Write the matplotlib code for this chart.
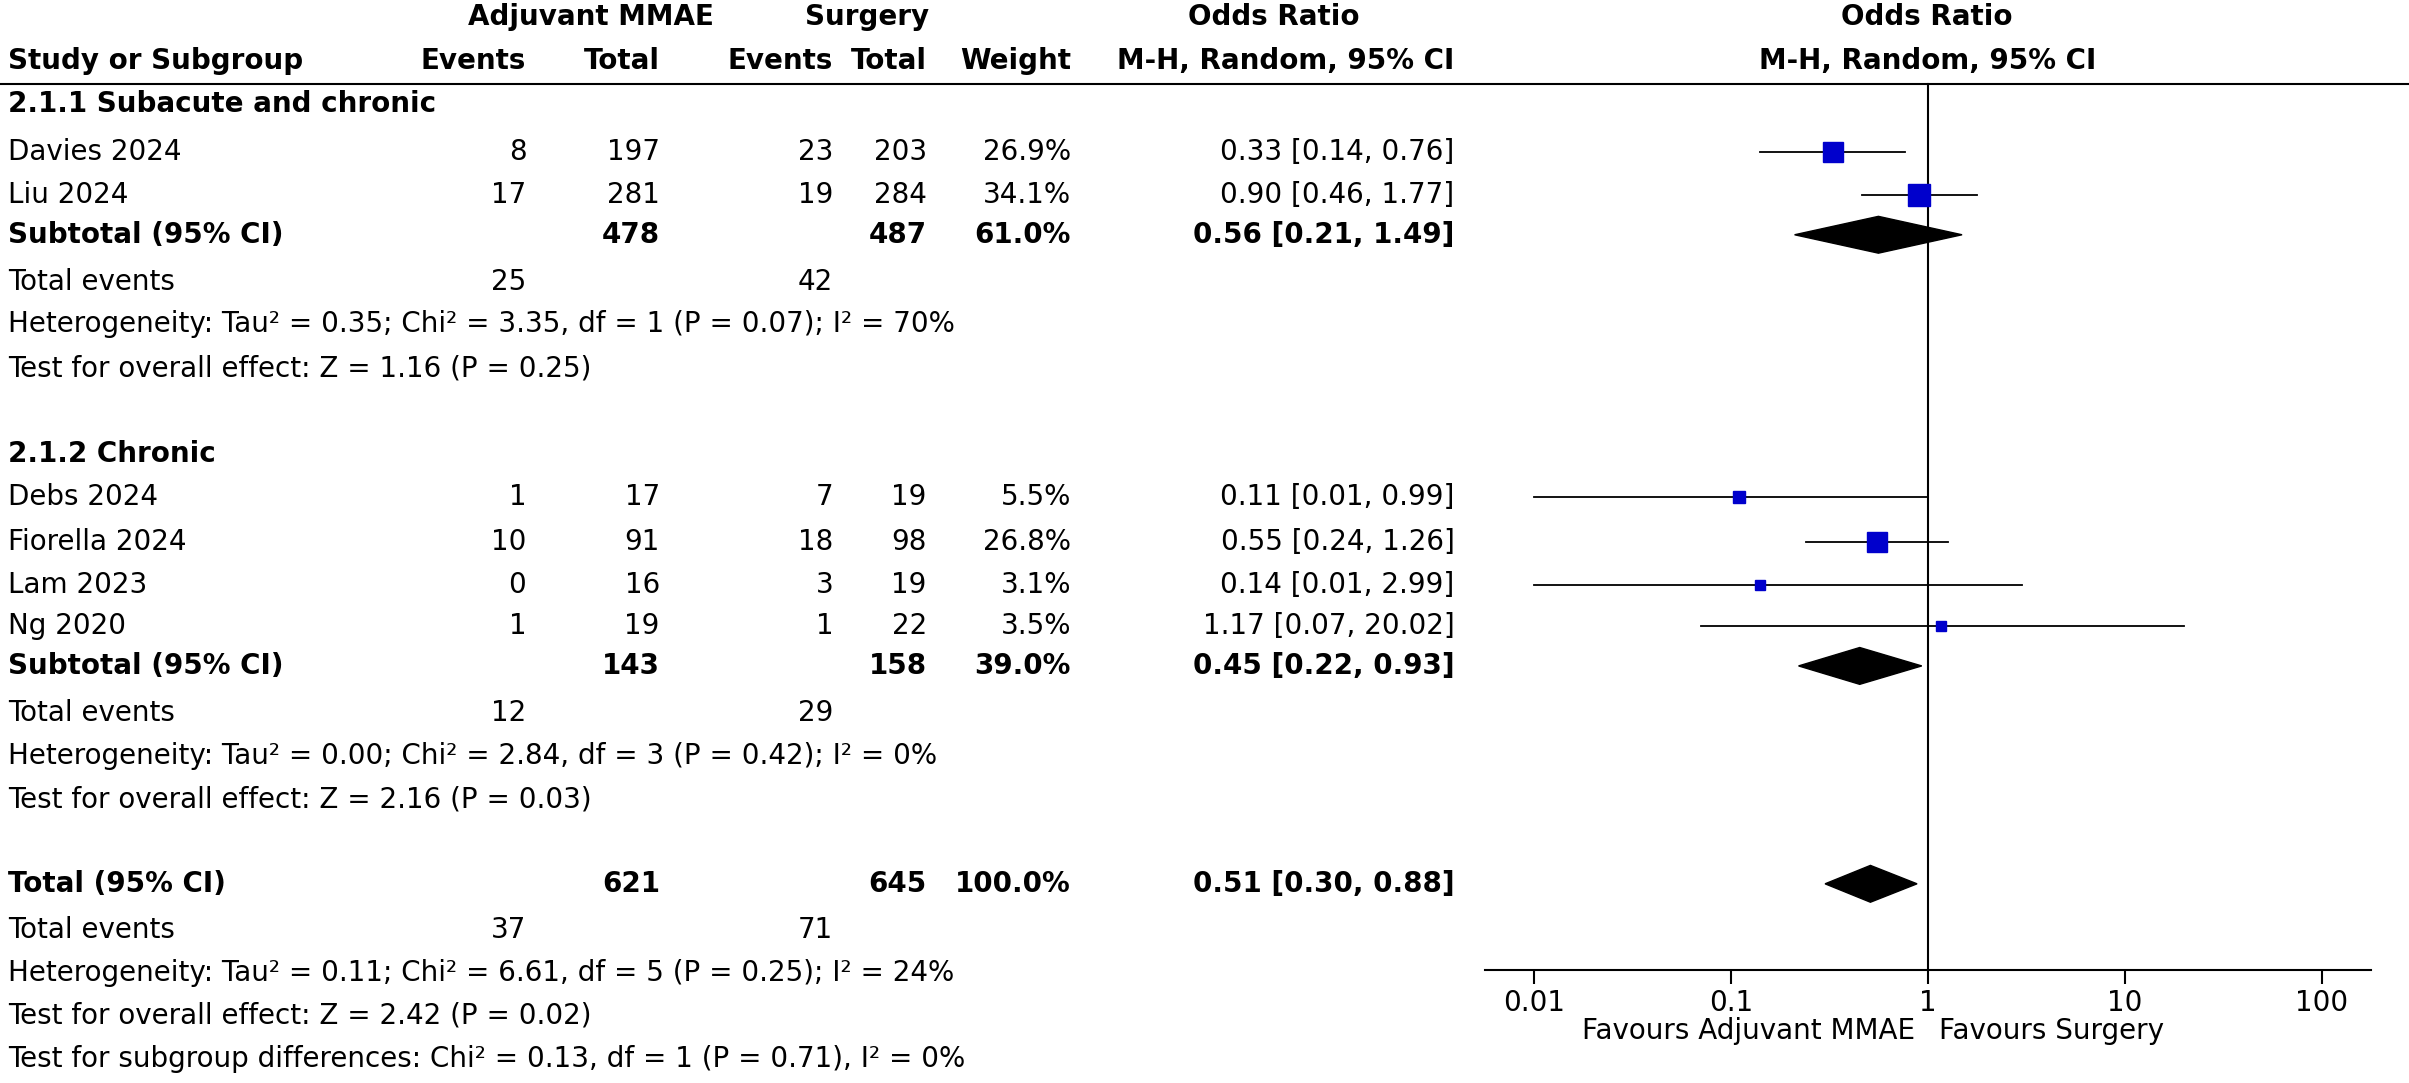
import matplotlib
matplotlib.use("Agg")
import matplotlib.pyplot as plt
import numpy as np

W, H = 2409, 1083
S = W / 1570.0
DH = H / S  # display height

g1_names = ["Davies 2024", "Liu 2024"]
g1_ev1 = [8, 17]; g1_t1 = [197, 281]; g1_ev2 = [23, 19]; g1_t2 = [203, 284]
g1_w = [26.9, 34.1]; g1_or = [0.33, 0.90]; g1_lo = [0.14, 0.46]; g1_hi = [0.76, 1.77]
g1_sub = dict(t1=478, t2=487, w=61.0, orr=0.56, lo=0.21, hi=1.49, e1=25, e2=42)
g2_names = ["Debs 2024", "Fiorella 2024", "Lam 2023", "Ng 2020"]
g2_ev1 = [1, 10, 0, 1]; g2_t1 = [17, 91, 16, 19]; g2_ev2 = [7, 18, 3, 1]; g2_t2 = [19, 98, 19, 22]
g2_w = [5.5, 26.8, 3.1, 3.5]; g2_or = [0.11, 0.55, 0.14, 1.17]
g2_lo = [0.01, 0.24, 0.01, 0.07]; g2_hi = [0.99, 1.26, 2.99, 20.02]
g2_sub = dict(t1=143, t2=158, w=39.0, orr=0.45, lo=0.22, hi=0.93, e1=12, e2=29)
tot = dict(t1=621, t2=645, w=100.0, orr=0.51, lo=0.30, hi=0.88, e1=37, e2=71)

fig = plt.figure(figsize=(W/100, H/100), dpi=100)
tx = fig.add_axes([0, 0, 1, 1]); tx.set_xlim(0, 1570); tx.set_ylim(DH, 0); tx.axis("off")
FS = 20
def T(x, y, s, ha="left", bold=False):
    tx.text(x, y, s, ha=ha, va="center", fontsize=FS, fontweight="bold" if bold else "normal",
            family="DejaVu Sans")

# headers
T(385, 11, "Adjuvant MMAE", "center", True); T(565, 11, "Surgery", "center", True)
T(830, 11, "Odds Ratio", "center", True); T(1256, 11, "Odds Ratio", "center", True)
T(5, 40, "Study or Subgroup", bold=True)
for x, s in [(343, "Events"), (430, "Total"), (543, "Events"), (604, "Total"), (698, "Weight")]:
    T(x, 40, s, "right", True)
T(948, 40, "M-H, Random, 95% CI", "right", True); T(1256, 40, "M-H, Random, 95% CI", "center", True)
tx.plot([0, 1570], [55, 55], color="black", lw=1.5)

fx = fig.add_axes([968/1570, 1-632/DH, (1545-968)/1570, 632/DH])
fx.set_xscale("log")
d = 32/128.25
fx.set_xlim(10**(-2-d), 10**(2+d)); fx.set_ylim(632, 0)
for sp in ["top", "left", "right"]: fx.spines[sp].set_visible(False)
fx.spines["bottom"].set_linewidth(1.5)
fx.set_yticks([]); fx.set_xticks([0.01, 0.1, 1, 10, 100]); fx.set_xticklabels(["0.01", "0.1", "1", "10", "100"])
fx.minorticks_off()
fx.tick_params(axis="x", labelsize=FS, length=10, width=1.5, direction="out", pad=4)
fx.plot([1, 1], [55, 632], color="black", lw=1.5)
fx.patch.set_alpha(0)

def fmt(o, l, h): return f"{o:.2f} [{l:.2f}, {h:.2f}]"

def study(y, n, e1, t1, e2, t2, w, o, l, h):
    T(5, y, n); T(343, y, str(e1), "right"); T(430, y, str(t1), "right")
    T(543, y, str(e2), "right"); T(604, y, str(t2), "right"); T(698, y, f"{w:.1f}%", "right")
    T(948, y, fmt(o, l, h), "right")
    fx.plot([l, h], [y, y], color="black", lw=1.3)
    sz = 3 + 13*np.sqrt(w/34.1)
    fx.plot([o], [y], marker="s", ms=sz, color="#0000CC", mec="#0000CC")

def sub(y, lab, d):
    T(5, y, lab, bold=True); T(430, y, str(d["t1"]), "right", True); T(604, y, str(d["t2"]), "right", True)
    T(698, y, f"{d['w']:.1f}%", "right", True); T(948, y, fmt(d["orr"], d["lo"], d["hi"]), "right", True)
    fx.fill([d["lo"], d["orr"], d["hi"], d["orr"]], [y, y-12, y, y+12], color="black")

T(5, 68, "2.1.1 Subacute and chronic", bold=True)
for i, y in enumerate([99, 127]):
    study(y, g1_names[i], g1_ev1[i], g1_t1[i], g1_ev2[i], g1_t2[i], g1_w[i], g1_or[i], g1_lo[i], g1_hi[i])
sub(153, "Subtotal (95% CI)", g1_sub)
T(5, 184, "Total events"); T(343, 184, str(g1_sub["e1"]), "right"); T(543, 184, str(g1_sub["e2"]), "right")
T(5, 211, "Heterogeneity: Tau² = 0.35; Chi² = 3.35, df = 1 (P = 0.07); I² = 70%")
T(5, 240, "Test for overall effect: Z = 1.16 (P = 0.25)")

T(5, 296, "2.1.2 Chronic", bold=True)
for i, y in enumerate([324, 353, 381, 408]):
    study(y, g2_names[i], g2_ev1[i], g2_t1[i], g2_ev2[i], g2_t2[i], g2_w[i], g2_or[i], g2_lo[i], g2_hi[i])
sub(434, "Subtotal (95% CI)", g2_sub)
T(5, 465, "Total events"); T(343, 465, str(g2_sub["e1"]), "right"); T(543, 465, str(g2_sub["e2"]), "right")
T(5, 493, "Heterogeneity: Tau² = 0.00; Chi² = 2.84, df = 3 (P = 0.42); I² = 0%")
T(5, 521, "Test for overall effect: Z = 2.16 (P = 0.03)")

sub(576, "Total (95% CI)", tot)
T(5, 606, "Total events"); T(343, 606, str(tot["e1"]), "right"); T(543, 606, str(tot["e2"]), "right")
T(5, 634, "Heterogeneity: Tau² = 0.11; Chi² = 6.61, df = 5 (P = 0.25); I² = 24%")
T(5, 662, "Test for overall effect: Z = 2.42 (P = 0.02)")
T(5, 690, "Test for subgroup differences: Chi² = 0.13, df = 1 (P = 0.71), I² = 0%")
T(1248, 672, "Favours Adjuvant MMAE", "right"); T(1264, 672, "Favours Surgery", "left")

fig.savefig("out.png", dpi=100)
